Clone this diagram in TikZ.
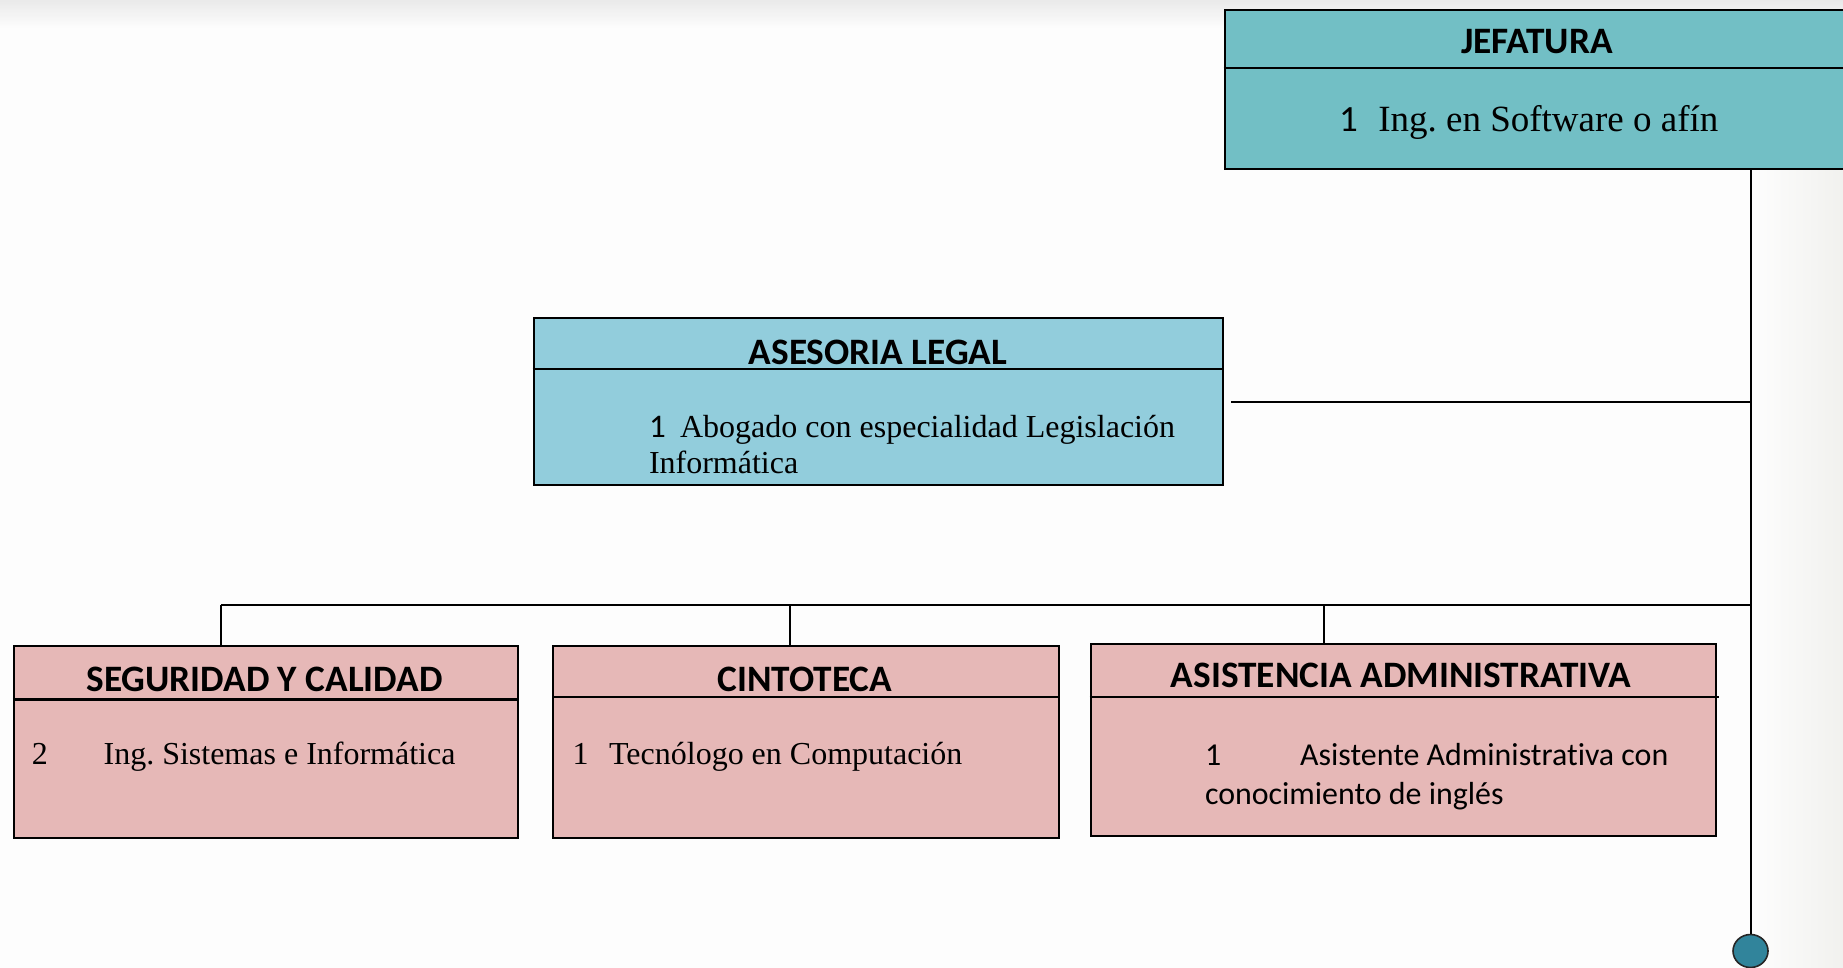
\documentclass[tikz,border=0pt]{standalone}
\usepackage{fontspec}
\setmainfont{Liberation Serif}
\newfontfamily\crl[Ligatures=NoCommon]{Carlito}
\usetikzlibrary{shapes.geometric}
\frenchspacing
\definecolor{bgc}{HTML}{FDFDFD}
\definecolor{edgec}{HTML}{F1F1EE}
\definecolor{jefc}{HTML}{72BFC5}
\definecolor{asec}{HTML}{92CDDC}
\definecolor{pinkc}{HTML}{E6B8B7}
\definecolor{dotc}{HTML}{31849B}
\tikzset{
  box/.style={draw=black, line width=2pt, rectangle, anchor=north west, inner sep=0pt},
  bline/.style={draw=black, line width=2.2pt},
  conn/.style={draw=black, line width=2pt},
  hdr/.style={anchor=base, inner sep=0pt, font=\crl\bfseries\fontsize{37.3}{41}\selectfont},
  txt/.style={anchor=base west, inner sep=0pt, font=\fontsize{32}{38}\selectfont},
  stxt/.style={anchor=base west, inner sep=0pt, font=\crl\fontsize{31.9}{38}\selectfont},
}
\begin{document}
\frenchspacing
\begin{tikzpicture}[x=1pt,y=-1pt]
\useasboundingbox (0,0) rectangle (1843,968);
\fill[bgc] (0,0) rectangle (1843,968);
\shade[left color=bgc, right color=edgec] (1755,0) rectangle (1843,968);
\shade[top color=black!9, bottom color=bgc, opacity=0.9] (0,0) rectangle (1843,28);

% JEFATURA
\node[box, fill=jefc, minimum width=700pt, minimum height=158.7pt] (jef) at (1223.6,9.4) {};
\draw[bline] ([yshift=-58.8pt]jef.north west) -- ([yshift=-58.8pt]jef.north east);
\node[hdr] (jefh) at (1537,54) {JEFATURA};
\node[txt, font=\fontsize{37}{42}\selectfont] (jeft) at (1339,131.6) {{\crl 1}\hspace{0.55em}Ing. en Software o afín};

% ASESORIA LEGAL
\node[box, fill=asec, minimum width=689.9pt, minimum height=166.9pt] (ase) at (532.5,317.4) {};
\draw[bline] ([yshift=-51.7pt]ase.north west) -- ([yshift=-51.7pt]ase.north east);
\node[hdr] (aseh) at (878,364.4) {ASESORIA LEGAL};
\node[txt] (aset1) at (648.8,437) {{\crl\fontsize{33}{38}\selectfont 1}\hspace{0.45em}Abogado con especialidad Legislación};
\node[txt] (aset2) at (648.8,473.7) {Informática};

% SEGURIDAD Y CALIDAD
\node[box, fill=pinkc, minimum width=504.3pt, minimum height=191.6pt] (seg) at (12.9,645.3) {};
\draw[bline] ([yshift=-54.1pt]seg.north west) -- ([yshift=-54.1pt]seg.north east);
\node[hdr] (segh) at (264.5,691) {SEGURIDAD Y CALIDAD};
\node[txt] (segn) at (31.7,764) {2};
\node[txt] (segt) at (103.4,764) {Ing. Sistemas e Informática};

% CINTOTECA
\node[box, fill=pinkc, minimum width=505.5pt, minimum height=191.6pt] (cin) at (552.4,645.3) {};
\draw[bline] ([yshift=-51.7pt]cin.north west) -- ([yshift=-51.7pt]cin.north east);
\node[hdr] (cinh) at (805,691) {CINTOTECA};
\node[txt] (cinn) at (572.4,764) {1};
\node[txt] (cint) at (608.9,764) {Tecnólogo en Computación};

% ASISTENCIA ADMINISTRATIVA
\node[box, fill=pinkc, minimum width=625.3pt, minimum height=191.6pt] (asi) at (1089.6,642.9) {};
\draw[bline] ([yshift=-54.1pt]asi.north west) -- ([yshift=-54.1pt,xshift=2pt]asi.north east);
\node[hdr] (asih) at (1401,687.6) {ASISTENCIA ADMINISTRATIVA};
\node[stxt] (asin) at (1204.8,765) {1};
\node[stxt] (asit1) at (1300,765) {Asistente Administrativa con};
\node[stxt] (asit2) at (1204.8,804) {conocimiento de inglés};

% end dot
\node[ellipse, draw=black!85, line width=1.6pt, fill=dotc, minimum width=35pt, minimum height=33pt, inner sep=0pt] (circ) at (1750.5,951) {};

% connectors
\coordinate (bus) at (1751.3,605.3);
\coordinate (d1) at (221,605.3);
\coordinate (d2) at (789.9,605.3);
\coordinate (d3) at (1323.5,605.3);
\draw[conn] (circ.north) -- (circ.north |- jef.south);
\draw[conn] ([xshift=7pt]ase.east) -- (ase.east -| circ.north);
\draw[conn] (d1) -- (bus);
\draw[conn] (d1) -- (d1 |- seg.north);
\draw[conn] (d2) -- (d2 |- cin.north);
\draw[conn] (d3) -- (d3 |- asi.north);
\end{tikzpicture}
\end{document}
